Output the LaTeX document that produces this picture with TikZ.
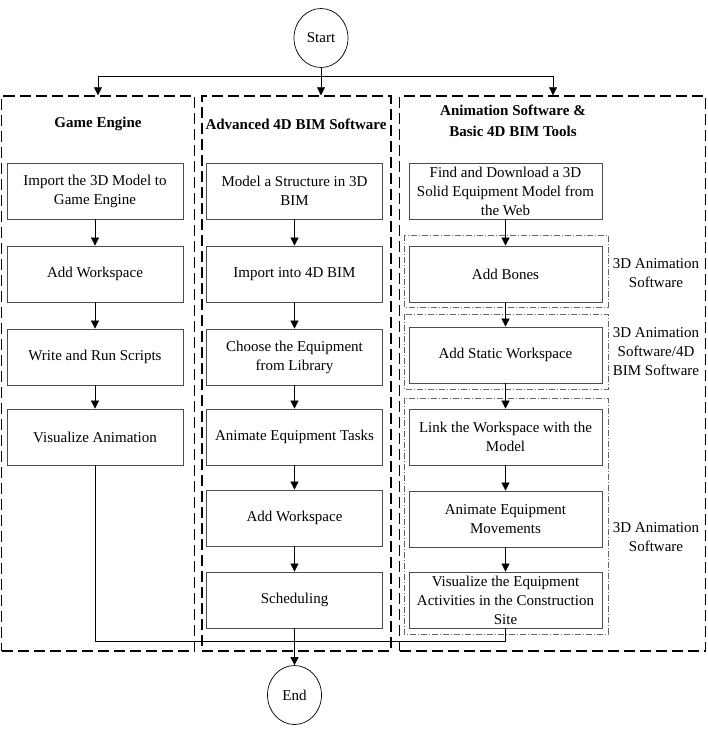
\documentclass[tikz,border=0pt]{standalone}
\usepackage{fontspec}
\setmainfont{Liberation Serif}
\usetikzlibrary{shapes.geometric, arrows.meta, positioning, calc}

\begin{document}
\begin{tikzpicture}[
  x=1pt, y=-1pt,
  every node/.style={font=\fontsize{15}{19}\selectfont},
  stepbox/.style={rectangle, draw=black!70, line width=0.8pt, minimum width=176pt,
                  minimum height=56pt, align=center, inner sep=1pt},
  widebox/.style={stepbox, minimum width=193pt},
  column/.style={rectangle, draw, line width=1.4pt, dash pattern=on 11pt off 5pt},
  frame/.style={draw=black!60, line width=0.6pt, dash pattern=on 6pt off 2pt on 1pt off 2pt},
  terminal/.style={ellipse, draw, line width=0.7pt, minimum width=54pt, minimum height=59pt,
                   inner sep=0pt},
  title/.style={align=center, font=\fontsize{15}{21}\selectfont\bfseries},
  side/.style={align=center},
  arrow/.style={-{Triangle[length=8pt, width=8pt]}, line width=0.7pt},
  link/.style={line width=0.7pt},
]
  \useasboundingbox (0,0) rectangle (708,729);

  % outer columns
  \node[column, minimum width=193pt, minimum height=555pt] (game) at (98,373.5) {};
  \node[column, minimum width=189pt, minimum height=555pt] (adv)  at (296.5,373.5) {};
  \node[column, minimum width=306pt, minimum height=555pt] (anim) at (552.5,373.5) {};

  \node[title] (gametitle) at (98,124)  {Game Engine};
  \node[title] (advtitle)  at (296,124) {Advanced 4D BIM Software};
  \node[title] (animtitle) at (513,121) {Animation Software \&\\Basic 4D BIM Tools};

  % start / end
  \node[terminal] (start) at (321,38)  {Start};
  \node[terminal] (end)   at (294.5,695) {End};

  % game engine
  \node[stepbox] (import)  at (95,191) {Import the 3D Model to\\Game Engine};
  \node[stepbox] (addws)   at (95,274) {Add Workspace};
  \node[stepbox] (scripts) at (95,357) {Write and Run Scripts};
  \node[stepbox] (visanim) at (95,437) {Visualize Animation};

  % advanced 4D BIM
  \node[stepbox] (model)    at (294.5,191) {Model a Structure in 3D\\BIM};
  \node[stepbox] (importbim) at (294.5,274) {Import into 4D BIM};
  \node[stepbox] (choose)   at (294.5,357) {Choose the Equipment\\from Library};
  \node[stepbox] (tasks)    at (294.5,437) {Animate Equipment Tasks};
  \node[stepbox] (addws2)   at (294.5,518) {Add Workspace};
  \node[stepbox] (sched)    at (294.5,600) {Scheduling};

  % animation software
  \node[widebox] (find)    at (505.5,191) {Find and Download a 3D\\Solid Equipment Model from\\the Web};
  \node[widebox] (bones)   at (505.5,274) {Add Bones};
  \node[widebox] (static)  at (505.5,355) {Add Static Workspace};
  \node[widebox] (linkws)  at (505.5,437) {Link the Workspace with the\\Model};
  \node[widebox] (moves)   at (505.5,519) {Animate Equipment\\Movements};
  \node[widebox] (visequip) at (505.5,600) {Visualize the Equipment\\Activities in the Construction\\Site};

  \draw[frame] (404,235) rectangle (608,307);
  \draw[frame] (404,314) rectangle (608,389);
  \draw[frame] (404,398) rectangle (608,634);

  \node[side] (sw1) at (656,273) {3D Animation\\Software};
  \node[side] (sw2) at (656,352) {3D Animation\\Software/4D\\BIM Software};
  \node[side] (sw3) at (656,537) {3D Animation\\Software};

  % split from start
  \coordinate (jl) at (98,76);
  \coordinate (jm) at (321,76);
  \coordinate (jr) at (553,76);
  \draw[link] (start) -- (jm);
  \draw[link] (jl) -- (jr);
  \draw[arrow] (jl) -- (jl |- game.north);
  \draw[arrow] (jm) -- (jm |- adv.north);
  \draw[arrow] (jr) -- (jr |- anim.north);

  \draw[arrow] (import) -- (addws);
  \draw[arrow] (addws) -- (scripts);
  \draw[arrow] (scripts) -- (visanim);

  \draw[arrow] (model) -- (importbim);
  \draw[arrow] (importbim) -- (choose);
  \draw[arrow] (choose) -- (tasks);
  \draw[arrow] (tasks) -- (addws2);
  \draw[arrow] (addws2) -- (sched);

  \draw[arrow] (find) -- (bones);
  \draw[arrow] (bones) -- (static);
  \draw[arrow] (static) -- (linkws);
  \draw[arrow] (linkws) -- (moves);
  \draw[arrow] (moves) -- (visequip);

  % merge to end
  \coordinate (mrg) at (505.5,641);
  \draw[link] (visanim) |- (mrg) -- (visequip);
  \draw[arrow] (sched) -- (end);
\end{tikzpicture}
\end{document}
